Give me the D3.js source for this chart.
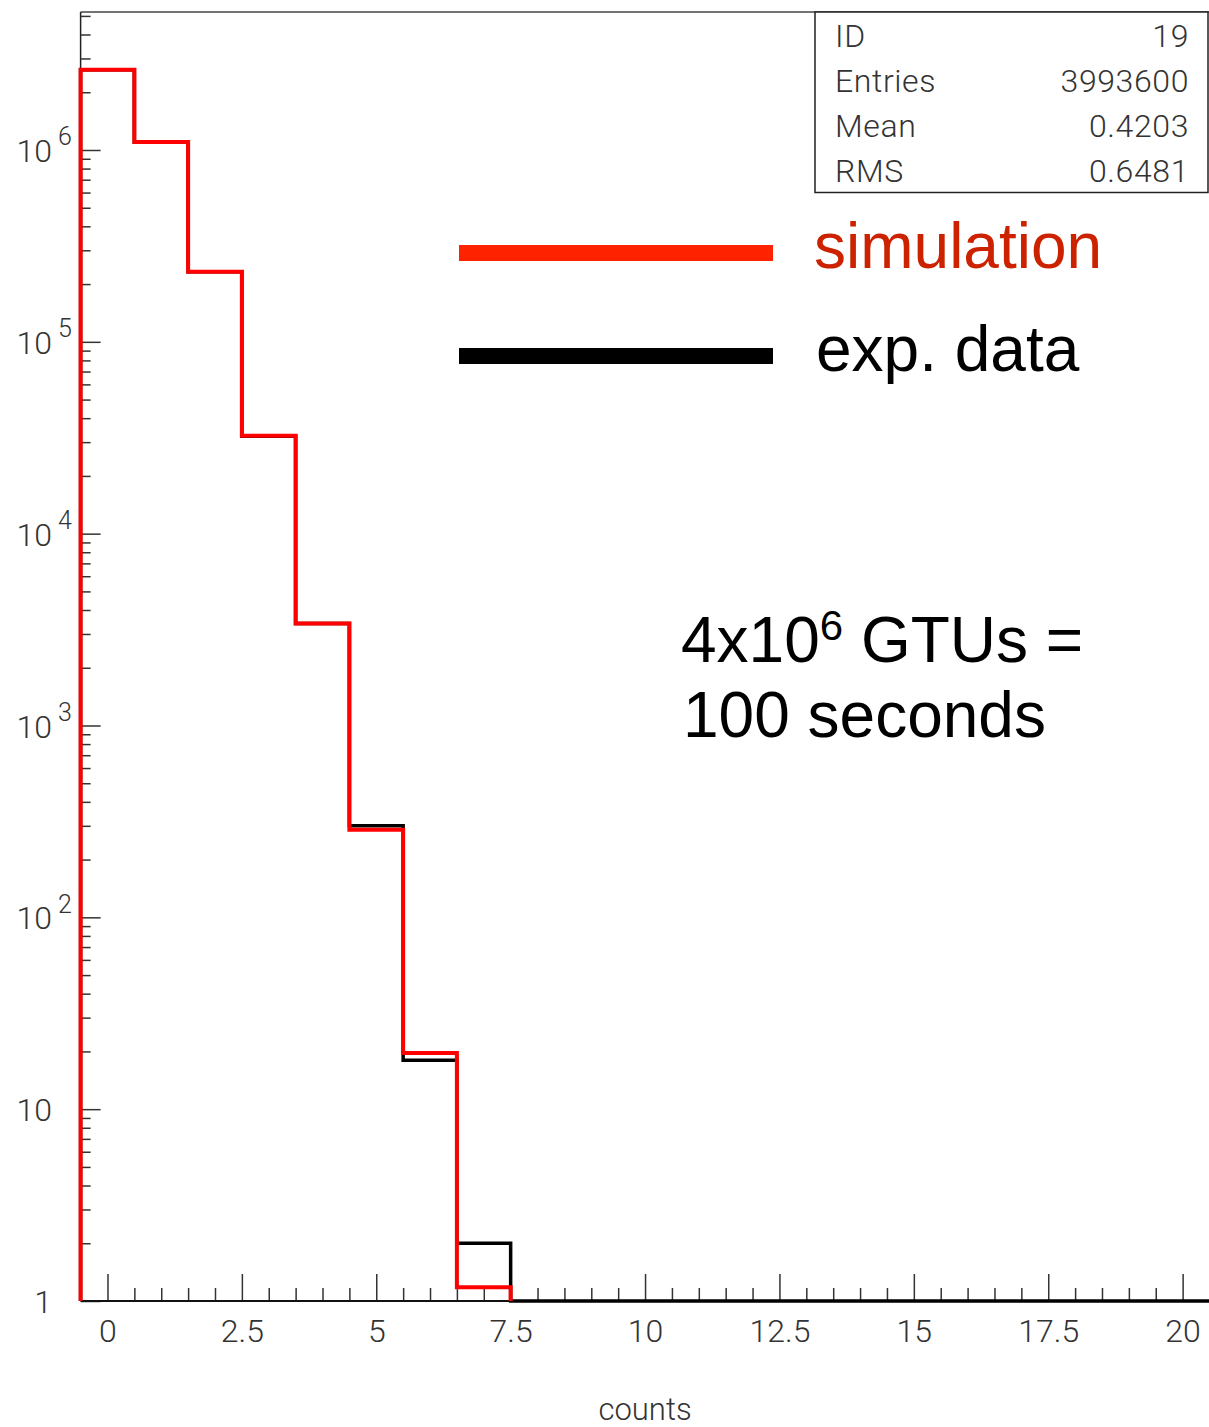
<!DOCTYPE html>
<html>
<head>
<meta charset="utf-8">
<script src="https://cdn.jsdelivr.net/npm/d3@7"></script>
<style>
  html, body { margin: 0; padding: 0; background: #fff; }
  svg { display: block; }
  .root-font { font-family: Roboto, "DejaVu Sans", sans-serif; font-weight: 300; fill: #333; }
</style>
</head>
<body>
<svg id="chart" width="1209" height="1427"></svg>
<script>
// ---- data ----
const bins = [0,1,2,3,4,5,6,7,8,9,10,11,12,13,14,15,16,17,18,19,20];
const simulation = [2.62e6, 1.10e6, 2.32e5, 3.24e4, 3.40e3, 286, 19.6, 1.18, 0,0,0,0,0,0,0,0,0,0,0,0,0];
const expData    = [2.62e6, 1.10e6, 2.32e5, 3.22e4, 3.40e3, 300, 18, 2, 0,0,0,0,0,0,0,0,0,0,0,0,0];
const xTickLabels = ["0","2.5","5","7.5","10","12.5","15","17.5","20"];
const xMajorTicks = [0, 2.5, 5, 7.5, 10, 12.5, 15, 17.5, 20];
const yDecades = [1, 10, 100, 1000, 10000, 100000, 1000000];
const statsLabels = ["ID", "Entries", "Mean", "RMS"];
const statsValues = ["19", "3993600", "0.4203", "0.6481"];
const legendLabels = ["simulation", "exp. data"];
const xTitle = "counts";

// ---- layout ----
const svg = d3.select("#chart");
const pLeft = 80.6, pRight = 1209.5, pTop = 12, pBottom = 1301;
const x = d3.scaleLinear().domain([-0.5, 20.5]).range([pLeft, pRight]);
const yMin = 1, yMax = 5.24e6;
const y = d3.scaleLog().domain([yMin, yMax]).range([pBottom, pTop]);
const FONT = "Roboto, 'DejaVu Sans', sans-serif";
const BIG = "'Liberation Sans', Arial, sans-serif";

// frame lines
svg.append("line").attr("x1", pLeft).attr("x2", pRight).attr("y1", pTop).attr("y2", pTop)
  .attr("stroke", "#444").attr("stroke-width", 1.5);
svg.append("line").attr("x1", pLeft).attr("x2", pLeft).attr("y1", pTop).attr("y2", pBottom)
  .attr("stroke", "#222").attr("stroke-width", 1.5);

// ---- y axis ticks (inward) ----
const yMinor = [];
for (let k = 0; k <= 6; k++) for (let m = 2; m <= 9; m++) {
  const v = m * Math.pow(10, k);
  if (v <= yMax) yMinor.push(v);
}
svg.append("g").attr("transform", `translate(${pLeft},0)`)
  .call(d3.axisRight(y).tickValues(yMinor).tickSize(10).tickSizeOuter(0).tickFormat(""))
  .call(g => g.select(".domain").remove())
  .call(g => g.selectAll("line").attr("stroke", "#333").attr("stroke-width", 1.5));
svg.append("g").attr("transform", `translate(${pLeft},0)`)
  .call(d3.axisRight(y).tickValues(yDecades).tickSize(20).tickSizeOuter(0).tickFormat(""))
  .call(g => g.select(".domain").remove())
  .call(g => g.selectAll("line").attr("stroke", "#333").attr("stroke-width", 1.5));

// y labels
const yLab = svg.append("g").attr("transform", `translate(52,0)`)
  .call(d3.axisLeft(y).tickValues(yDecades).tickSize(0).tickPadding(0)
    .tickFormat(d => d === 1 ? "1" : "10"))
  .call(g => g.select(".domain").remove());
yLab.selectAll("text").attr("font-size", 32).attr("dy", "0.36em").attr("fill", "#333")
  .style("font-family", FONT).style("font-weight", 300);
yLab.selectAll(".tick").filter(d => d >= 100).append("text")
  .attr("x", 6).attr("y", -5).attr("text-anchor", "start")
  .attr("font-size", 25).attr("fill", "#333")
  .style("font-family", FONT).style("font-weight", 300)
  .text(d => Math.round(Math.log10(d)));

// ---- x axis ----
const xMinor = d3.range(0, 20.01, 0.5).filter(v => !xMajorTicks.includes(v));
svg.append("g").attr("transform", `translate(0,${pBottom})`)
  .call(d3.axisTop(x).tickValues(xMinor).tickSize(13).tickSizeOuter(0).tickFormat(""))
  .call(g => g.select(".domain").remove())
  .call(g => g.selectAll("line").attr("stroke", "#333").attr("stroke-width", 1.5));
svg.append("g").attr("transform", `translate(0,${pBottom})`)
  .call(d3.axisTop(x).tickValues(xMajorTicks).tickSize(27).tickSizeOuter(0).tickFormat(""))
  .call(g => g.select(".domain").remove())
  .call(g => g.selectAll("line").attr("stroke", "#333").attr("stroke-width", 1.5));
const xLab = svg.append("g").attr("transform", `translate(0,${pBottom})`)
  .call(d3.axisBottom(x).tickValues(xMajorTicks).tickSize(0).tickPadding(18)
    .tickFormat((d, i) => xTickLabels[i]))
  .call(g => g.select(".domain").remove());
xLab.selectAll("text").attr("font-size", 32).attr("fill", "#333")
  .style("font-family", FONT).style("font-weight", 300);

svg.append("line").attr("x1", pLeft).attr("x2", pRight).attr("y1", pBottom).attr("y2", pBottom)
  .attr("stroke", "#111").attr("stroke-width", 2);

svg.append("text").attr("class", "root-font").attr("x", (pLeft + pRight) / 2).attr("y", 1420)
  .attr("text-anchor", "middle").attr("font-size", 31).text(xTitle);

// ---- histograms ----
function stepPoints(vals, full) {
  let last = vals.length - 1;
  if (!full) while (last > 0 && vals[last] <= 0) last--;
  const pts = [[bins[0] - 0.5, yMin]];
  for (let i = 0; i <= last; i++) {
    const v = Math.max(vals[i], yMin);
    pts.push([bins[i] - 0.5, v]);
    pts.push([bins[i] + 0.5, v]);
  }
  pts.push([bins[last] + 0.5, yMin]);
  return pts;
}
const line = d3.line().x(d => x(d[0])).y(d => y(d[1]));
svg.append("path").attr("d", line(stepPoints(expData, true)))
  .attr("fill", "none").attr("stroke", "#000").attr("stroke-width", 3.5);
svg.append("path").attr("d", line(stepPoints(simulation, false)))
  .attr("fill", "none").attr("stroke", "#ff0000").attr("stroke-width", 4);

// ---- stats box ----
svg.append("rect").attr("x", 815).attr("y", pTop).attr("width", 393).attr("height", 180.5)
  .attr("fill", "#fff").attr("stroke", "#222").attr("stroke-width", 1.5);
statsLabels.forEach((lab, i) => {
  const by = 47 + i * 45;
  svg.append("text").attr("class", "root-font").attr("x", 835).attr("y", by)
    .attr("font-size", 32).attr("letter-spacing", 0.6).text(lab);
  svg.append("text").attr("class", "root-font").attr("x", 1189).attr("y", by)
    .attr("text-anchor", "end").attr("font-size", 32).attr("letter-spacing", 0.6).text(statsValues[i]);
});

// ---- legend ----
const legColors = ["#ff2200", "#000000"];
const legText = ["#cc2200", "#000000"];
legendLabels.forEach((lab, i) => {
  const cy = 253 + i * 103;
  svg.append("line").attr("x1", 459).attr("x2", 773).attr("y1", cy).attr("y2", cy)
    .attr("stroke", legColors[i]).attr("stroke-width", 16);
  svg.append("text").attr("x", 814 + i * 2).attr("y", cy + 15)
    .attr("font-family", BIG).attr("font-size", 64)
    .attr("fill", legText[i]).text(lab);
});

// ---- annotation ----
const ann = svg.append("text").attr("x", 681).attr("y", 662)
  .attr("font-family", BIG).attr("font-size", 64).attr("fill", "#000");
ann.append("tspan").text("4x10");
ann.append("tspan").attr("font-size", 42).attr("dy", -22).text("6");
ann.append("tspan").attr("dy", 22).text(" GTUs =");
svg.append("text").attr("x", 683).attr("y", 737)
  .attr("font-family", BIG).attr("font-size", 64).attr("fill", "#000")
  .text("100 seconds");
</script>
</body>
</html>
